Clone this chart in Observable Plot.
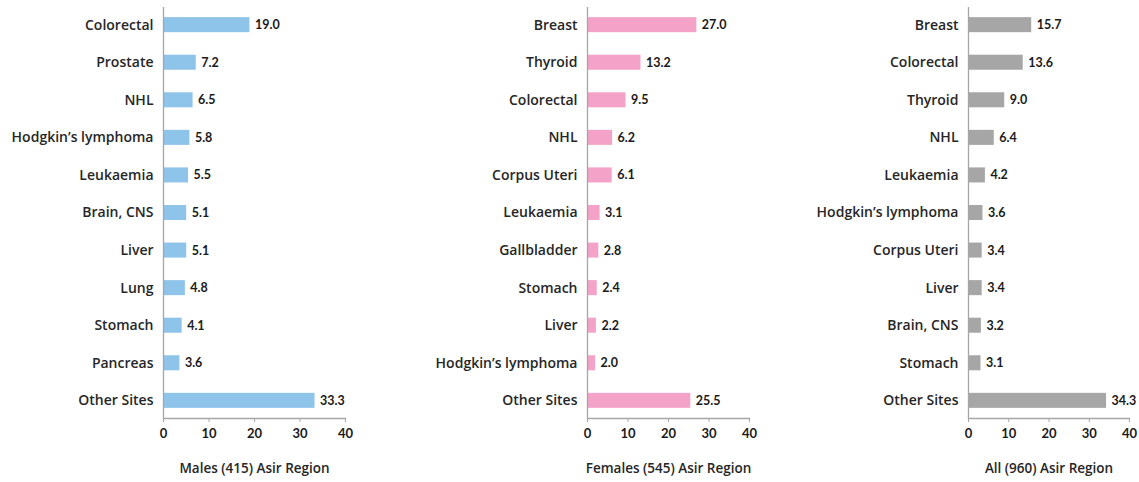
<!DOCTYPE html>
<html><head><meta charset="utf-8">
<script src="https://cdn.jsdelivr.net/npm/d3@7"></script>
<script src="https://cdn.jsdelivr.net/npm/@observablehq/plot@0.6"></script>
<style>
body{margin:0;background:#fff}
#c{position:relative;width:1139px;height:482px}
#c svg{position:absolute;top:0}
</style>
</head><body><div id="c"></div>
<script>
const malesSites = ["Colorectal","Prostate","NHL","Hodgkin’s lymphoma","Leukaemia","Brain, CNS","Liver","Lung","Stomach","Pancreas","Other Sites"];
const malesValues = [19.0,7.2,6.5,5.8,5.5,5.1,5.1,4.8,4.1,3.6,33.3];
const femalesSites = ["Breast","Thyroid","Colorectal","NHL","Corpus Uteri","Leukaemia","Gallbladder","Stomach","Liver","Hodgkin’s lymphoma","Other Sites"];
const femalesValues = [27.0,13.2,9.5,6.2,6.1,3.1,2.8,2.4,2.2,2.0,25.5];
const allSites = ["Breast","Colorectal","Thyroid","NHL","Leukaemia","Hodgkin’s lymphoma","Corpus Uteri","Liver","Brain, CNS","Stomach","Other Sites"];
const allValues = [15.7,13.6,9.0,6.4,4.2,3.6,3.4,3.4,3.2,3.1,34.3];
const xTicks = [0,10,20,30,40];
const titles = ["Males (415) Asir Region","Females (545) Asir Region","All (960) Asir Region"];

const panels = [
  {sites: malesSites, values: malesValues, color: "#8EC3EA", title: titles[0], left: 0, width: 385, marginLeft: 163, marginRight: 40},
  {sites: femalesSites, values: femalesValues, color: "#F4A2C8", title: titles[1], left: 385, width: 399, marginLeft: 202, marginRight: 35},
  {sites: allSites, values: allValues, color: "#A6A6A6", title: titles[2], left: 784, width: 355, marginLeft: 184, marginRight: 10}
];

const labelFont = "Open Sans, sans-serif";
const numFont = "Lato, sans-serif";
const c = document.getElementById("c");
for (const p of panels) {
  const data = p.sites.map((s, i) => ({s, v: p.values[i]}));
  const svg = Plot.plot({
    width: p.width, height: 482,
    marginTop: 7, marginBottom: 64, marginLeft: p.marginLeft, marginRight: p.marginRight,
    x: {domain: [0, 40], ticks: xTicks},
    y: {domain: p.sites, paddingInner: 0.6, paddingOuter: 0.27, round: false},
    style: {background: "transparent", overflow: "visible"},
    marks: [
      Plot.barX(data, {x: "v", y: "s", fill: p.color}),
      Plot.text(data, {x: "v", y: "s", text: d => d.v.toFixed(1), dx: 5, textAnchor: "start",
        fontFamily: numFont, fontWeight: 700, fontSize: 12.5, fill: "#1a1a1a"}),
      Plot.ruleX([0], {stroke: "#a6a6a6", strokeWidth: 1.3}),
      Plot.frame({anchor: "bottom", stroke: "#a6a6a6", strokeWidth: 1.3}),
      Plot.axisY({tickSize: 0, tickPadding: 10, label: null, fontFamily: labelFont, fontWeight: 600, fontSize: 14, fill: "#262626"}),
      Plot.axisX({ticks: xTicks, tickSize: 4, tickPadding: 6, label: null, stroke: "#a6a6a6", fill: "#1a1a1a",
        fontFamily: numFont, fontWeight: 700, fontSize: 13, tickFormat: d => d}),
      Plot.text([p.title], {frameAnchor: "bottom", dy: 54, text: d => d, fontFamily: labelFont, fontWeight: 600, fontSize: 13.5, fill: "#262626"})
    ]
  });
  svg.style.left = p.left + "px";
  c.appendChild(svg);
}
</script>
</body></html>
